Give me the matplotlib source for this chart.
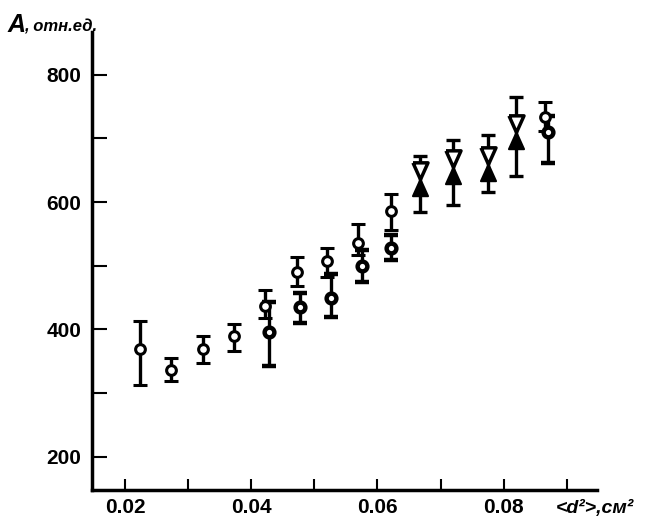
import numpy as np
import matplotlib
matplotlib.use("Agg")
import matplotlib.pyplot as plt

# ---- данные ----
# светлые кружки
x_open = [0.0224, 0.0273, 0.0324, 0.0373, 0.0422, 0.0473, 0.0520, 0.0569, 0.0622, 0.0866]
y_open = [370, 337, 370, 390, 437, 490, 507, 536, 586, 733]
lo_open = [313, 319, 348, 366, 418, 469, 482, 517, 556, 712]
hi_open = [413, 355, 390, 409, 462, 514, 528, 565, 613, 757]

# тёмные кружки
x_dark = [0.0428, 0.0477, 0.0527, 0.0575, 0.0622, 0.0870]
y_dark = [396, 435, 450, 500, 528, 710]
lo_dark = [343, 410, 420, 474, 509, 661]
hi_dark = [443, 457, 487, 525, 548, 735]

# "бабочки"
x_bow = [0.0668, 0.0719, 0.0775, 0.0820]
y_bow = [636, 655, 660, 710]
lo_bow = [584, 595, 616, 641]
hi_bow = [672, 697, 705, 765]

x_major = [0.02, 0.04, 0.06, 0.08]
x_minor = [0.03, 0.05, 0.07, 0.09]
x_labels = ["0.02", "0.04", "0.06", "0.08"]
y_major = [200, 400, 600, 800]
y_minor = [300, 500, 700]

plt.rcParams['font.family'] = ['Liberation Sans', 'DejaVu Sans']

fig = plt.figure(figsize=(6.45, 5.18), dpi=100)
ax = fig.add_axes([0.1434, 0.0541, 0.7822, 0.8841])

def err(y, lo, hi):
    y = np.array(y); return [y - np.array(lo), np.array(hi) - y]

ax.errorbar(x_open, y_open, yerr=err(y_open, lo_open, hi_open), fmt='o', color='black',
            ms=7, mfc='white', mec='black', mew=2.2, elinewidth=2.4, capsize=5, capthick=2.4, zorder=3)
ax.errorbar(x_dark, y_dark, yerr=err(y_dark, lo_dark, hi_dark), fmt='o', color='black',
            ms=7, mfc='white', mec='black', mew=3.2, elinewidth=2.4, capsize=5, capthick=2.4, zorder=3)

# песочные часы: верх открытый, низ залитый
bow_top = [(-0.45, 1), (0.45, 1), (0, 0), (-0.45, 1)]
bow_bot = [(0, 0), (0.45, -1), (-0.45, -1), (0, 0)]
ax.errorbar(x_bow, y_bow, yerr=err(y_bow, lo_bow, hi_bow), fmt='none', ecolor='black',
            elinewidth=2.4, capsize=5, capthick=2.4, zorder=3)
ax.plot(x_bow, y_bow, ls='none', marker=bow_top, ms=24, mfc='white', mec='black', mew=2.5, zorder=4)
ax.plot(x_bow, y_bow, ls='none', marker=bow_bot, ms=24, mfc='black', mec='black', mew=1.5, zorder=4)

ax.set_xlim(0.01484, 0.0948)
ax.set_ylim(148, 867)

ax.spines['top'].set_visible(False)
ax.spines['right'].set_visible(False)
ax.spines['left'].set_linewidth(2.5)
ax.spines['bottom'].set_linewidth(2.5)

ax.set_xticks(x_major)
ax.set_xticklabels(x_labels)
ax.set_xticks(x_minor, minor=True)
ax.set_yticks(y_major)
ax.set_yticks(y_minor, minor=True)
ax.tick_params(axis='x', which='both', direction='in', length=8, width=1.5, pad=6)
ax.tick_params(axis='y', which='both', direction='in', length=11, width=1.5, pad=8)
for lab in ax.get_xticklabels() + ax.get_yticklabels():
    lab.set_fontsize(15)
    lab.set_fontweight('bold')

# подписи осей
fig.text(8 / 645, 1 - 32 / 518, "A", fontsize=18, style='italic', fontweight='bold', va='baseline')
fig.text(24 / 645, 1 - 31 / 518, ", отн.ед.", fontsize=12, style='italic', fontweight='bold', va='baseline')
fig.text(556 / 645, 1 - 513 / 518, "<d²>,см²", fontsize=14, style='italic', fontweight='bold', va='baseline')

fig.savefig("out.png", dpi=100)
